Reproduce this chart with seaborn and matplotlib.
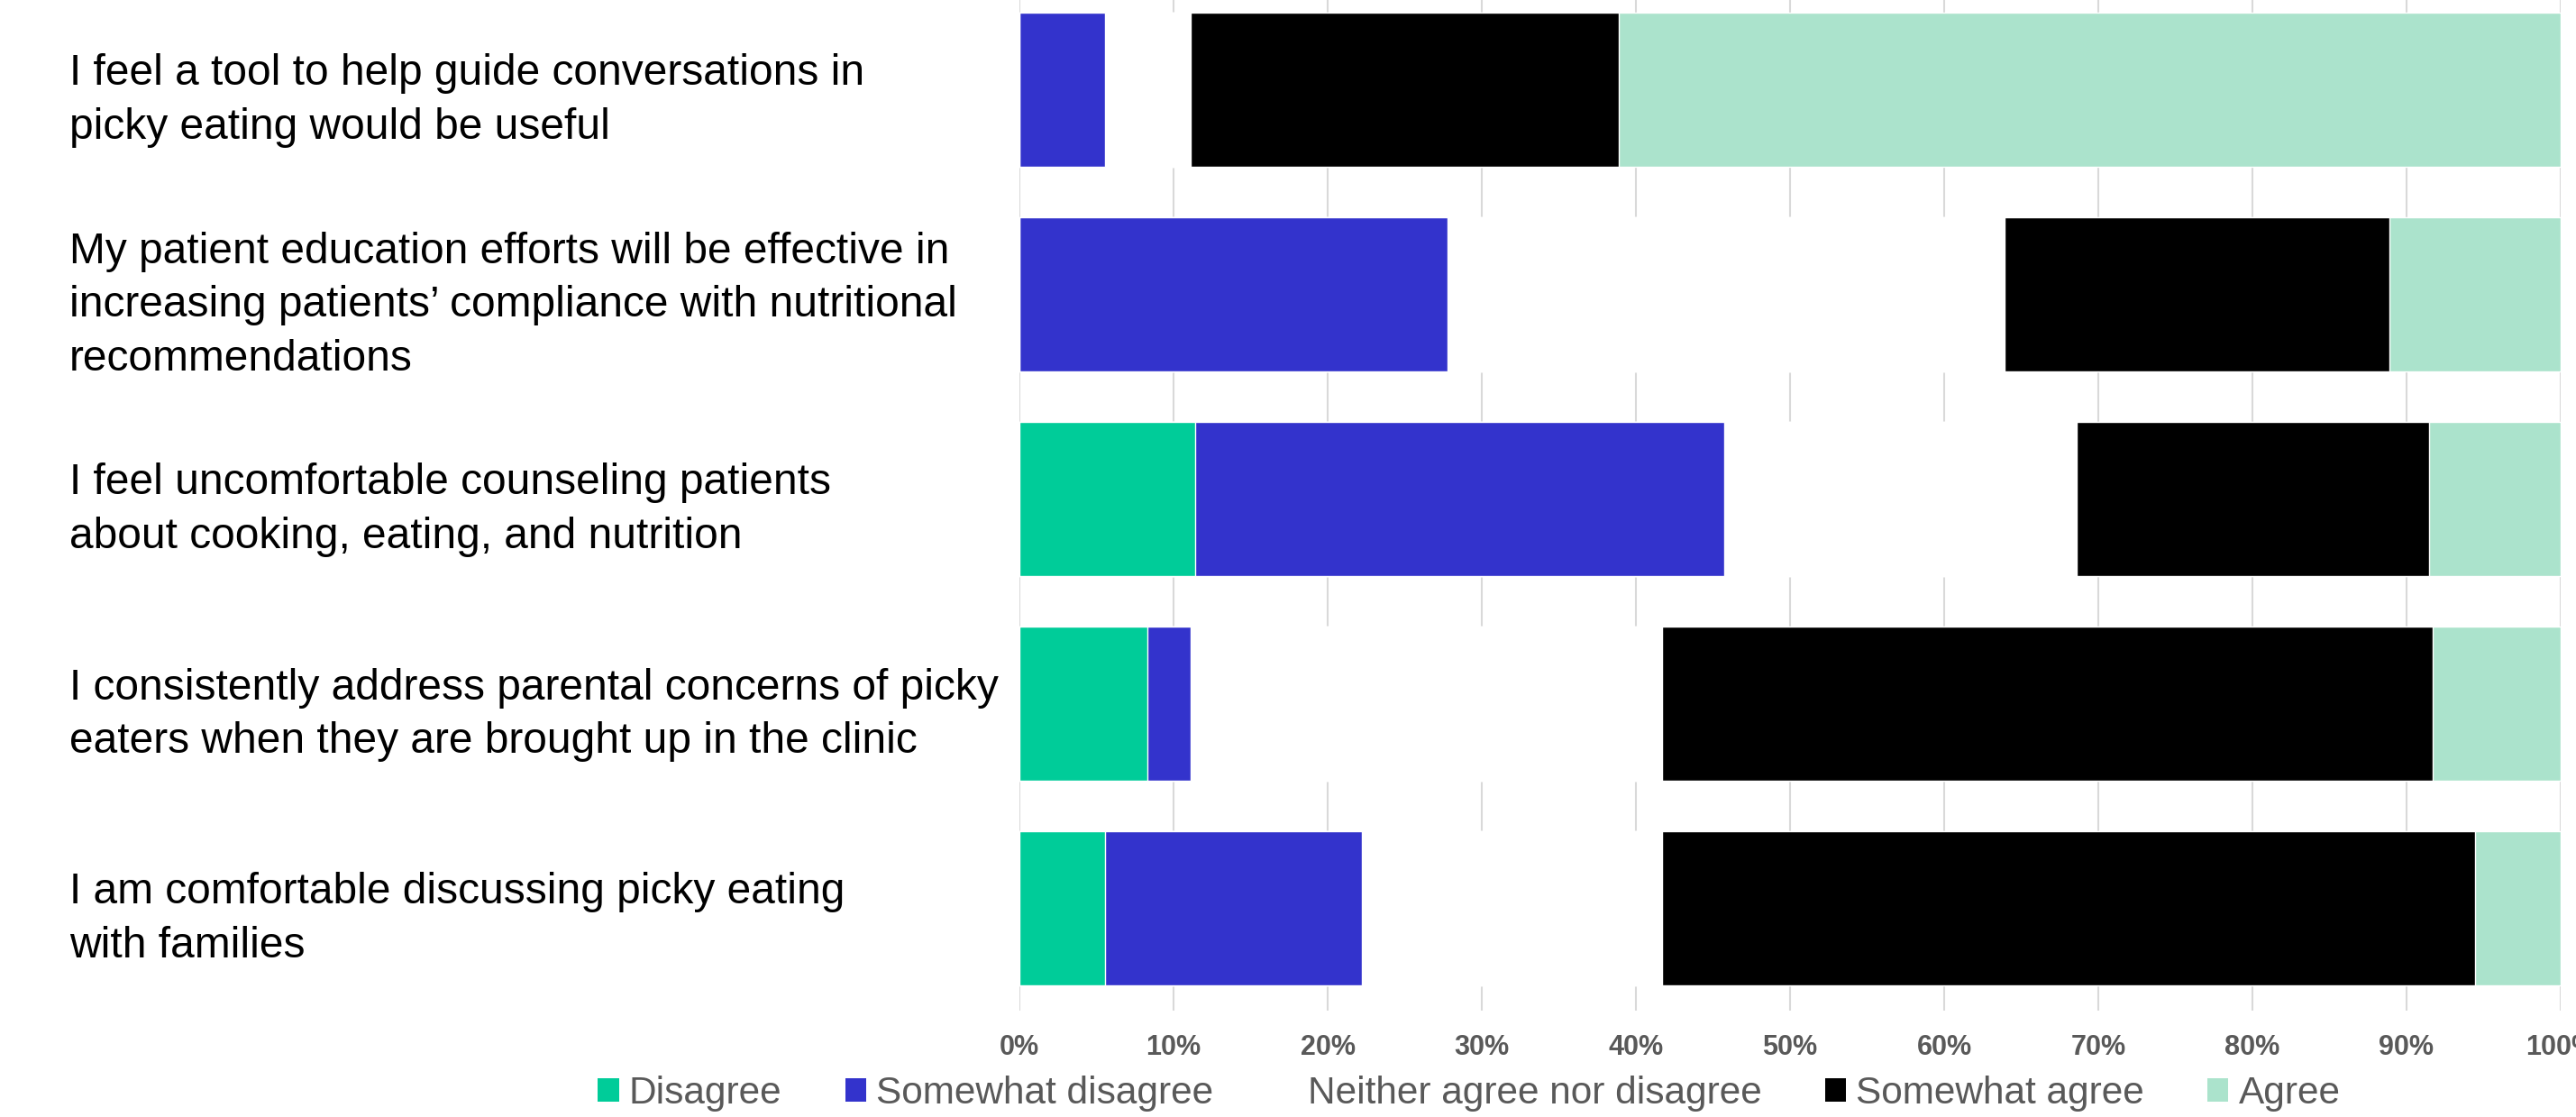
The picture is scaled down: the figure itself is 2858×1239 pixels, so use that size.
import pandas as pd
import matplotlib
matplotlib.use("Agg")
import matplotlib.pyplot as plt
import seaborn as sns
from matplotlib.patches import Patch
from matplotlib.ticker import FuncFormatter

# --- Survey statements (top to bottom) ---
statements = [
	"I feel a tool to help guide conversations in\npicky eating would be useful",
	"My patient education efforts will be effective in\nincreasing patients\u2019 compliance with nutritional\nrecommendations",
	"I feel uncomfortable counseling patients\nabout cooking, eating, and nutrition",
	"I consistently address parental concerns of picky\neaters when they are brought up in the clinic",
	"I am comfortable discussing picky eating\nwith families",
]

# --- Response shares (%) ---
disagree = [0.0, 0.0, 11.43, 8.33, 5.56]
somewhat_disagree = [5.56, 27.78, 34.29, 2.78, 16.67]
neither = [5.56, 36.11, 22.86, 30.56, 19.44]
somewhat_agree = [27.78, 25.0, 22.86, 50.0, 52.78]
agree = [61.11, 11.11, 8.57, 8.33, 5.56]

responses = ["Disagree", "Somewhat disagree", "Neither agree nor disagree", "Somewhat agree", "Agree"]
colors = ["#00CC99", "#3333CC", "#FFFFFF", "#000000", "#ABE3CC"]
x_ticks = [0, 10, 20, 30, 40, 50, 60, 70, 80, 90, 100]


def main():
	sns.set_style("white")
	plt.rcParams["font.family"] = ["Liberation Sans", "DejaVu Sans"]

	df = pd.DataFrame({
		"statement": statements,
		responses[0]: disagree,
		responses[1]: somewhat_disagree,
		responses[2]: neither,
		responses[3]: somewhat_agree,
		responses[4]: agree,
	})
	cum = df[responses].cumsum(axis=1)

	fig = plt.figure(figsize=(28.58, 12.39), dpi=100)
	ax = fig.add_axes([1131 / 2858, 1 - 1121 / 1239, (2841 - 1131) / 2858, 1135 / 1239])

	# draw the stacked layers back to front, each one as a cumulative bar
	for resp, col in reversed(list(zip(responses, colors))):
		sns.barplot(
			x=cum[resp], y=df["statement"], orient="h", color=col, saturation=1,
			width=0.75, edgecolor="white", linewidth=1, ax=ax, zorder=2,
		)

	ax.set_xlim(0, 100)
	ax.set_xticks(x_ticks)
	ax.xaxis.set_major_formatter(FuncFormatter(lambda v, p: f"{v:.0f}%"))
	ax.grid(axis="x", color="#D9D9D9", linewidth=1.5)
	ax.grid(axis="y", visible=False)
	ax.set_axisbelow(True)
	for s in ax.spines.values():
		s.set_visible(False)
	ax.set_xlabel("")
	ax.set_ylabel("")

	ax.tick_params(axis="x", length=0, pad=19, labelsize=22, labelcolor="#595959")
	for t in ax.get_xticklabels():
		t.set_fontweight("bold")
	ax.tick_params(axis="y", length=0, pad=(1131 - 77) * 0.72, labelsize=34.5, labelcolor="black")
	for t in ax.get_yticklabels():
		t.set_ha("left")
		t.set_linespacing(1.42)

	handles = [Patch(facecolor=c, edgecolor="none") for c in colors]
	fig.legend(
		handles, responses, loc="center", bbox_to_anchor=(1630 / 2858, 1 - 1213 / 1239),
		ncol=5, frameon=False, fontsize=30.5, labelcolor="#595959",
		handlelength=0.55, handleheight=0.55, handletextpad=0.27, columnspacing=1.65,
	)

	fig.savefig("out.png", dpi=100)


if __name__ == "__main__":
	main()
